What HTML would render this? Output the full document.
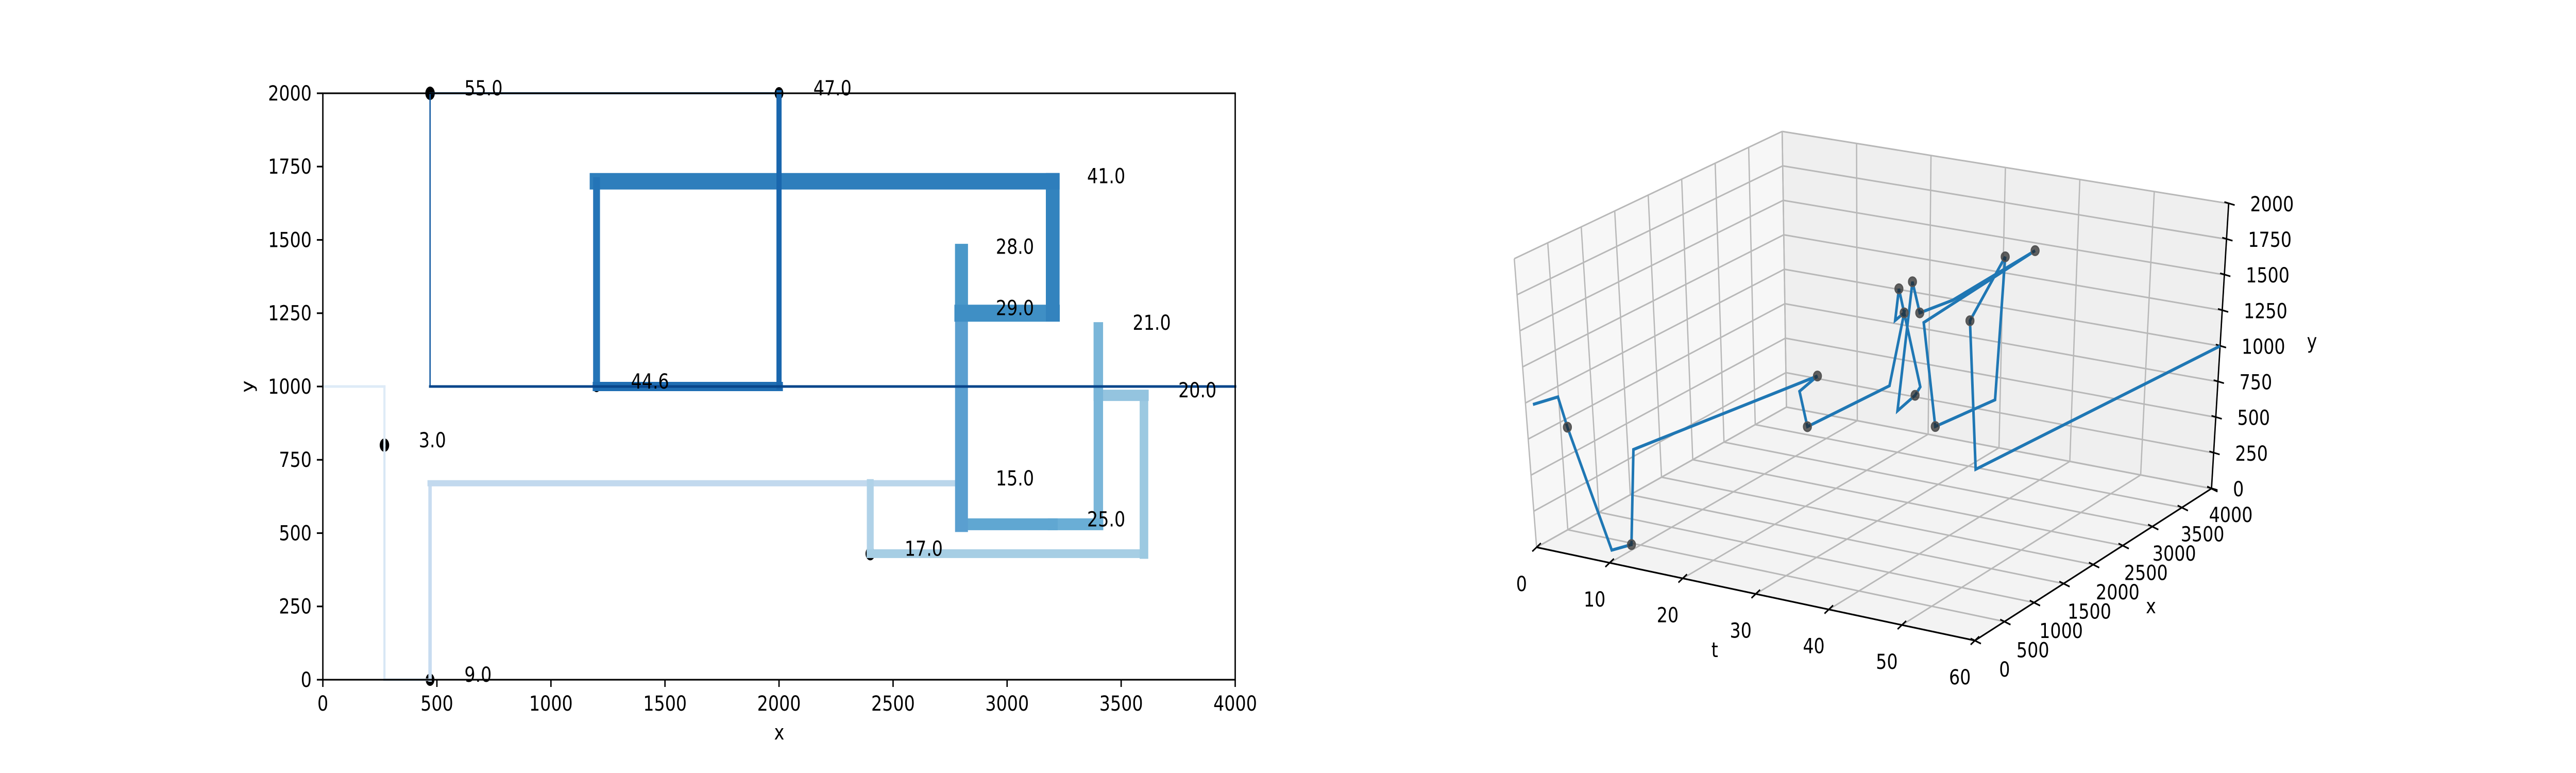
<!DOCTYPE html>
<html><head><meta charset="utf-8"><style>
html,body{margin:0;padding:0;background:#fff;overflow:hidden;width:100%;height:100%;}
svg{display:block;width:100vw;height:100vh;font-family:"DejaVu Sans","Liberation Sans",sans-serif;}
</style></head><body>
<svg id="fig" viewBox="0 0 6000 1500" preserveAspectRatio="none" xmlns="http://www.w3.org/2000/svg">
<g id="left"></g>
<g id="right"></g>
</svg>
<script>
// ---- data ----
const ptX = [0,270,270,270,470,470,2800,2400,2400,3600,3600,3400,3400,3400,3200,2800,2800,2800,3200,3200,1200,1200,2000,2000,470,470,4000];
const ptY = [1000,1000,800,0,0,670,670,670,430,430,970,970,1200,530,530,530,1460,1250,1250,1700,1700,1000,1000,2000,2000,1000,1000];
const ptT = [1,2,3,8,9,10,15,16,17,18,20,20.5,21,24,25,26,28,29,30,41,43,44.6,46,47,55,56,60];
const segW = [5,5,5,5,8,12,12,16,17,20,22,22,22,23,23,30,30,33,32,32,16,18,12,4,3,5];
const segC = ['#deebf7','#deebf7','#d8e7f5','#d0e1f2','#c8dcf0','#c2d9ee','#bad6eb','#b0d2e8','#a6cee4','#9cc9e1','#94c4df','#85bcdc','#7ab6d9','#6aaed6','#60a7d2','#5a9fd0','#4a98c9','#3f8fc5','#3383be','#2e7ebc','#2474b7','#1f6eb3','#1966ad','#0f5aa3','#0b559f','#08468b'];
const markIdx = [2,4,6,8,10,12,14,16,17,19,21,23,24];
const markR = [13,12,5,13,10,10,5,0,0,0,11,12,13];
const xTicks = [0,500,1000,1500,2000,2500,3000,3500,4000];
const yTicks = [0,250,500,750,1000,1250,1500,1750,2000];
const tTicks = [0,10,20,30,40,50,60];

const NS='http://www.w3.org/2000/svg';
function mk(parent,tag,attrs,text){const e=document.createElementNS(NS,tag);for(const k in attrs)e.setAttribute(k,attrs[k]);if(text!==undefined)e.textContent=text;parent.appendChild(e);return e;}

// ---- left 2D chart ----
const L=document.getElementById('left');
const AX0=752,AX1=2877,AY0=181,AY1=1319;
const sx=v=>AX0+v/4000*(AX1-AX0);
const sy=v=>AY1-v/2000*(AY1-AY0);
markIdx.forEach((pi,k)=>{
  if(markR[k]<=0)return;
  const c=mk(L,'ellipse',{cx:sx(ptX[pi]),cy:sy(ptY[pi]),rx:markR[k]*0.85,ry:markR[k],fill:'#000'});
  
  
});
for(let i=0;i<ptX.length-1;i++){
  const l=mk(L,'line',{x1:sx(ptX[i]),y1:sy(ptY[i]),x2:sx(ptX[i+1]),y2:sy(ptY[i+1]),stroke:segC[i],'stroke-width':segW[i],'stroke-linecap':'square'});
  
  
}
markIdx.forEach(pi=>{
  const t=mk(L,'text',{x:sx(ptX[pi])+80,y:sy(ptY[pi])+4,'font-size':40,fill:'#000'},ptT[pi].toFixed(1));
  
  
});
const frame=mk(L,'rect',{x:AX0,y:AY0,width:AX1-AX0,height:AY1-AY0,fill:'none',stroke:'#000','stroke-width':3.2});


xTicks.forEach(v=>{
  const g=mk(L,'g',{});
  
  
  mk(g,'line',{x1:sx(v),y1:AY1,x2:sx(v),y2:AY1+14,stroke:'#000','stroke-width':3.2});
  mk(g,'text',{x:sx(v),y:AY1+60,'font-size':40,'text-anchor':'middle'},String(v));
});
yTicks.forEach(v=>{
  const g=mk(L,'g',{});
  
  
  mk(g,'line',{x1:AX0-14,y1:sy(v),x2:AX0,y2:sy(v),stroke:'#000','stroke-width':3.2});
  mk(g,'text',{x:AX0-26,y:sy(v)+14,'font-size':40,'text-anchor':'end'},String(v));
});
let xt=mk(L,'text',{x:1815,y:1435,'font-size':40,'text-anchor':'middle'},'x');

let yt=mk(L,'text',{x:0,y:0,'font-size':40,'text-anchor':'middle',transform:'translate(590,750) rotate(-90)'},'y');


// ---- right 3D chart ----
const R=document.getElementById('right');
const C={ '000':[3579,1062],'100':[4600,1243],'110':[5151,948],'010':[4161,790],
          '001':[3527,502],'101':[4610,668],'111':[5191,395],'011':[4151,255]};
function P(t,x,y){
  const u=t/60,v=x/4000,w=y/2000;let px=0,py=0;
  for(const a of [0,1])for(const b of [0,1])for(const c of [0,1]){
    const wt=(a?u:1-u)*(b?v:1-v)*(c?w:1-w);const k=C[''+a+b+c];px+=wt*k[0];py+=wt*k[1];}
  return [px,py];
}
function poly(g,pts,fill,name){const e=mk(g,'polygon',{points:pts.map(p=>p.join(',')).join(' '),fill:fill,stroke:'none'});}
poly(R,[P(0,0,0),P(0,4000,0),P(0,4000,2000),P(0,0,2000)],'#f7f7f7','left-pane');
poly(R,[P(0,4000,0),P(60,4000,0),P(60,4000,2000),P(0,4000,2000)],'#efefef','back-pane');
poly(R,[P(0,0,0),P(60,0,0),P(60,4000,0),P(0,4000,0)],'#f3f3f3','floor-pane');
const G=mk(R,'g',{stroke:'#b8b8b8','stroke-width':3,fill:'none'});

function ln(g,a,b){mk(g,'line',{x1:a[0],y1:a[1],x2:b[0],y2:b[1]});}
tTicks.forEach(t=>{ln(G,P(t,0,0),P(t,4000,0));ln(G,P(t,4000,0),P(t,4000,2000));});
xTicks.forEach(x=>{ln(G,P(0,x,0),P(60,x,0));ln(G,P(0,x,0),P(0,x,2000));});
yTicks.forEach(y=>{ln(G,P(0,4000,y),P(60,4000,y));ln(G,P(0,0,y),P(0,4000,y));});
const AXG=mk(R,'g',{stroke:'#000','stroke-width':3.2});

ln(AXG,P(0,0,0),P(60,0,0));ln(AXG,P(60,0,0),P(60,4000,0));ln(AXG,P(60,4000,0),P(60,4000,2000));
tTicks.forEach(t=>{
  const g=mk(R,'g',{});
  
  const p=P(t,0,0);
  mk(g,'line',{x1:p[0]-10,y1:p[1]+8,x2:p[0]+10,y2:p[1]-8,stroke:'#000','stroke-width':3.2});
  mk(g,'text',{x:p[0]-35,y:p[1]+85,'font-size':40,'text-anchor':'middle'},String(t));
});
xTicks.forEach(x=>{
  const g=mk(R,'g',{});
  
  const p=P(60,x,0);const v=x/4000;
  mk(g,'line',{x1:p[0]-10,y1:p[1]-4,x2:p[0]+14,y2:p[1]+6,stroke:'#000','stroke-width':3.2});
  mk(g,'text',{x:p[0]+69-24*v,y:p[1]+70-5*v,'font-size':40,'text-anchor':'middle'},String(x));
});
yTicks.forEach(y=>{
  const g=mk(R,'g',{});
  
  const p=P(60,4000,y);
  mk(g,'line',{x1:p[0]-10,y1:p[1]-3,x2:p[0]+14,y2:p[1]+3,stroke:'#000','stroke-width':3.2});
  mk(g,'text',{x:p[0]+50,y:p[1]+15,'font-size':40,'text-anchor':'start'},String(y));
});
let tt=mk(R,'text',{x:3994,y:1275,'font-size':40,'text-anchor':'middle'},'t');

let x3=mk(R,'text',{x:5010,y:1190,'font-size':40,'text-anchor':'middle'},'x');

let y3=mk(R,'text',{x:5385,y:676,'font-size':40,'text-anchor':'middle'},'y');

const pts3=ptX.map((x,i)=>P(ptT[i],x,ptY[i]).join(',')).join(' ');
const pl=mk(R,'polyline',{points:pts3,fill:'none',stroke:'#1f77b4','stroke-width':6,'stroke-linejoin':'miter'});

markIdx.forEach(pi=>{
  const p=P(ptT[pi],ptX[pi],ptY[pi]);
  const c=mk(R,'circle',{cx:p[0],cy:p[1],r:9,fill:'#222','fill-opacity':0.7,stroke:'#555','stroke-width':3});
  
  
});
</script>
</body></html>
